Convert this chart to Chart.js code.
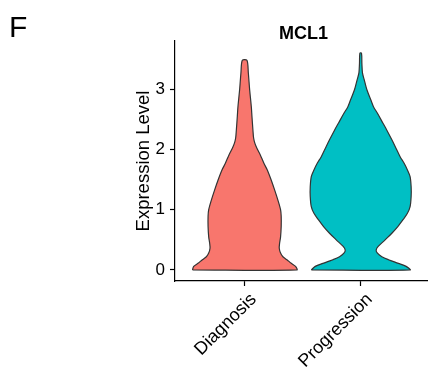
<!DOCTYPE html>
<html><head><meta charset="utf-8">
<script src="https://cdn.jsdelivr.net/npm/chart.js@4.4.1/dist/chart.umd.min.js"></script>
<style>html,body{margin:0;padding:0;background:#fff;}canvas{display:block;}</style>
</head><body>
<canvas id="c" width="428" height="376"></canvas>
<script>
// ---- data ----
const categories = ['Diagnosis', 'Progression'];
const violinColors = ['#F8766D', '#00BFC4'];
const yTickValues = [0, 1, 2, 3];
const chartTitle = 'MCL1';
const panelTag = 'F';
const yAxisTitle = 'Expression Level';

// expression levels (bottom -> top) and relative density at each level
const diagnosisLevels  = [0, 0.06, 0.11, 0.17, 0.22, 0.28, 0.36, 0.44, 0.55, 0.72, 0.89, 1.00, 1.16, 1.33, 1.49, 1.66, 1.77, 1.91, 2.02, 2.10, 2.19, 2.32, 2.55, 2.71, 2.99, 3.27, 3.48];
const diagnosisDensity = [1.00, 0.975, 0.893, 0.81, 0.733, 0.688, 0.663, 0.669, 0.688, 0.70, 0.70, 0.688, 0.637, 0.574, 0.51, 0.434, 0.369, 0.30, 0.235, 0.197, 0.172, 0.159, 0.14, 0.128, 0.096, 0.071, 0.044];

const progressionLevels  = [0, 0.06, 0.11, 0.17, 0.22, 0.28, 0.33, 0.39, 0.50, 0.61, 0.72, 0.83, 0.94, 1.05, 1.22, 1.38, 1.55, 1.66, 1.77, 1.88, 2.05, 2.16, 2.32, 2.44, 2.60, 2.71, 2.82, 2.99, 3.16, 3.27, 3.43, 3.60];
const progressionDensity = [0.946, 0.87, 0.723, 0.532, 0.405, 0.321, 0.296, 0.335, 0.468, 0.597, 0.711, 0.807, 0.895, 0.946, 0.966, 0.966, 0.946, 0.895, 0.832, 0.755, 0.66, 0.597, 0.501, 0.424, 0.321, 0.245, 0.195, 0.119, 0.067, 0.034, 0.023, 0.015];

const violinLevels = [diagnosisLevels, progressionLevels];
const violinDensity = [diagnosisDensity, progressionDensity];

// ---- build violin outlines (in data units) ----
const HALF_WIDTH = 0.45;
function violinOutline(center, levels, dens) {
  const pts = [];
  for (let i = 0; i < levels.length; i++) pts.push({x: center - HALF_WIDTH * dens[i], y: levels[i]});
  for (let i = levels.length - 1; i >= 0; i--) pts.push({x: center + HALF_WIDTH * dens[i], y: levels[i]});
  pts.push({x: pts[0].x, y: pts[0].y});
  return pts;
}

const FONT = "'Liberation Sans', Arial, Helvetica, sans-serif";

const datasets = categories.map((name, i) => ({
  label: name,
  data: violinOutline(i + 1, violinLevels[i], violinDensity[i]),
  showLine: true,
  fill: 'shape',
  backgroundColor: violinColors[i],
  borderColor: '#333333',
  borderWidth: 1.2,
  pointRadius: 0,
  tension: 0.3
}));

const textPlugin = {
  id: 'texts',
  afterDraw(chart) {
    const ctx = chart.ctx, a = chart.chartArea;
    ctx.save();
    ctx.fillStyle = '#000';
    ctx.textBaseline = 'alphabetic';
    ctx.font = 'bold 18px ' + FONT;
    ctx.textAlign = 'center';
    ctx.fillText(chartTitle, (a.left + a.right) / 2 + 2, 38.5);
    ctx.font = '30px ' + FONT;
    ctx.textAlign = 'left';
    ctx.fillText(panelTag, 9, 37);
    ctx.restore();
  }
};

new Chart(document.getElementById('c'), {
  type: 'scatter',
  data: { datasets },
  options: {
    responsive: false,
    animation: false,
    devicePixelRatio: 1,
    layout: { padding: { top: 41, left: 133, right: 0, bottom: 0 } },
    plugins: { legend: { display: false }, tooltip: { enabled: false } },
    scales: {
      x: {
        type: 'linear',
        min: 0.4, max: 2.58,
        afterBuildTicks: s => { s.ticks = categories.map((_, i) => ({ value: i + 1 })); },
        afterFit: s => { s.height = 95; },
        ticks: {
          callback: v => categories[v - 1],
          minRotation: 45, maxRotation: 45,
          autoSkip: false,
          font: { family: FONT, size: 18 },
          color: '#000',
          padding: 3,
          labelOffset: 9
        },
        grid: { drawOnChartArea: false, drawTicks: true, tickLength: 5, color: '#000', tickWidth: 1.2 },
        border: { color: '#000', width: 1.2 }
      },
      y: {
        type: 'linear',
        min: -0.183, max: 3.8,
        afterBuildTicks: s => { s.ticks = yTickValues.map(v => ({ value: v })); },
        afterFit: s => { s.width = 42; },
        ticks: { font: { family: FONT, size: 17 }, color: '#000', padding: 5 },
        grid: { drawOnChartArea: false, drawTicks: true, tickLength: 5, color: '#000', tickWidth: 1.2 },
        border: { color: '#000', width: 1.2 },
        title: { display: true, text: yAxisTitle, font: { family: FONT, size: 18.5 }, color: '#000', padding: { top: 0, bottom: 0 } }
      }
    }
  },
  plugins: [textPlugin]
});
</script>
</body></html>
